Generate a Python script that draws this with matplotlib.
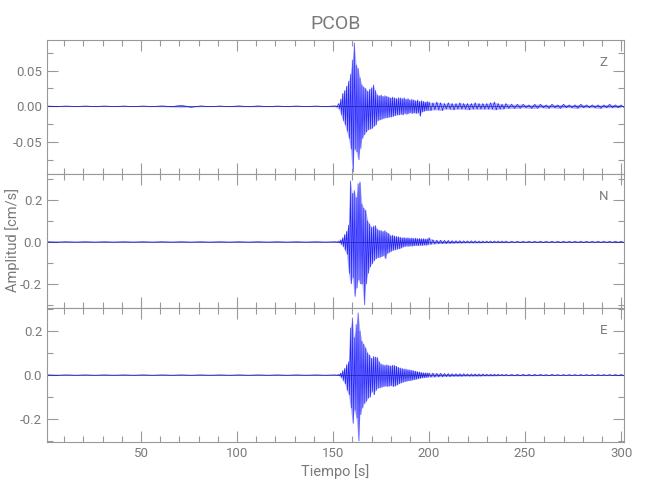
import numpy as np
import matplotlib
matplotlib.use("Agg")
import matplotlib.pyplot as plt
from matplotlib.ticker import MultipleLocator, FormatStrFormatter

# ------------------------------------------------
# sample times (s): coarse before the event, 1 s during it, coarser in the coda
t_pre = [1, 11, 21, 31, 41, 51, 61, 71, 81, 91, 101, 111, 121, 131, 141, 151]
t_evt = list(range(153, 201))
t_coda = list(range(202, 241, 2))
t_tail = list(range(243, 301, 3))
times = np.array(t_pre + t_evt + t_coda + t_tail, dtype=float)

# peak (upper) and trough (lower) amplitudes, cm/s
z_hi = [.0004, .0004, .0004, .0004, .0004, .0004, .0006, .0015, .0006, .0004, .0006, .0006, .0004, .0004, .0004, .0006,
        .004, .010, .018, .022, .028, .035, .045, .065,
        .089, .058, .053, .040, .030, .027, .025, .021,
        .024, .026, .030, .022, .016, .015, .016, .014,
        .015, .014, .013, .012, .013, .012, .011, .012,
        .012, .011, .012, .010, .011, .009, .010, .009,
        .008, .009, .007, .008, .007, .006, .007, .006,
        .005, .006, .005, .004, .005, .004, .004, .005, .004, .004,
        .004, .005, .004, .004, .004, .005, .006, .004, .003, .004,
        .003, .003, .003, .002, .003, .003, .002, .003, .002, .003,
        .002, .002, .003, .002, .002, .002, .002, .003, .002, .002]
z_lo = [-.0004, -.0004, -.0004, -.0004, -.0004, -.0004, -.0006, -.0015, -.0006, -.0004, -.0006, -.0006, -.0004, -.0004, -.0004, -.0006,
        -.004, -.012, -.020, -.026, -.035, -.045, -.060, -.092,
        -.060, -.064, -.075, -.059, -.045, -.040, -.036, -.033,
        -.032, -.031, -.028, -.026, -.020, -.019, -.018, -.017,
        -.016, -.016, -.015, -.015, -.014, -.013, -.012, -.012,
        -.011, -.012, -.010, -.011, -.010, -.009, -.010, -.009,
        -.010, -.009, -.014, -.008, -.007, -.006, -.006, -.006,
        -.005, -.005, -.006, -.004, -.004, -.005, -.004, -.004, -.004, -.005,
        -.004, -.004, -.004, -.004, -.004, -.004, -.005, -.004, -.004, -.003,
        -.003, -.003, -.002, -.003, -.003, -.002, -.003, -.002, -.003, -.002,
        -.002, -.003, -.002, -.002, -.002, -.003, -.002, -.002, -.002, -.002]

n_hi = [.0008, .0008, .0008, .0008, .0008, .0008, .0008, .0008, .0008, .0008, .0008, .0008, .0008, .0008, .0008, .0008,
        .004, .010, .020, .035, .050, .080, .290, .230,
        .245, .210, .277, .285, .180, .160, .150, .100,
        .086, .070, .075, .078, .060, .055, .054, .050,
        .054, .045, .040, .030, .032, .028, .026, .025,
        .022, .020, .021, .019, .020, .018, .019, .017,
        .018, .016, .017, .015, .016, .014, .015, .020,
        .010, .008, .008, .007, .007, .006, .006, .006, .005, .005,
        .005, .005, .004, .004, .004, .004, .004, .004, .004, .004,
        .003, .003, .003, .003, .003, .003, .003, .003, .003, .003,
        .003, .003, .003, .003, .003, .003, .003, .003, .003, .003]
n_lo = [-.0008, -.0008, -.0008, -.0008, -.0008, -.0008, -.0008, -.0008, -.0008, -.0008, -.0008, -.0008, -.0008, -.0008, -.0008, -.0008,
        -.004, -.012, -.022, -.040, -.060, -.150, -.200, -.170,
        -.260, -.220, -.180, -.200, -.200, -.300, -.200, -.150,
        -.120, -.105, -.090, -.080, -.075, -.073, -.070, -.065,
        -.080, -.055, -.050, -.045, -.040, -.038, -.035, -.033,
        -.030, -.025, -.022, -.020, -.021, -.019, -.020, -.018,
        -.017, -.018, -.016, -.017, -.015, -.016, -.014, -.012,
        -.010, -.009, -.008, -.008, -.007, -.007, -.006, -.006, -.005, -.005,
        -.005, -.005, -.005, -.004, -.004, -.004, -.004, -.004, -.004, -.004,
        -.003, -.003, -.003, -.003, -.003, -.003, -.003, -.003, -.003, -.003,
        -.003, -.003, -.003, -.003, -.003, -.003, -.003, -.003, -.003, -.003]

e_hi = [.0008, .0008, .0008, .0008, .0008, .0008, .0008, .0008, .0008, .0008, .0008, .0008, .0008, .0008, .0008, .0008,
        .003, .009, .020, .030, .047, .060, .214, .260,
        .170, .230, .283, .200, .154, .140, .123, .100,
        .091, .076, .085, .082, .080, .060, .050, .047,
        .045, .047, .044, .042, .045, .044, .040, .035,
        .032, .030, .028, .027, .025, .024, .022, .020,
        .018, .016, .014, .012, .011, .010, .010, .009,
        .009, .008, .008, .007, .007, .006, .006, .006, .006, .005,
        .005, .005, .005, .005, .004, .004, .004, .004, .003, .003,
        .003, .003, .003, .003, .003, .003, .002, .003, .002, .002,
        .002, .002, .002, .002, .002, .002, .002, .002, .002, .002]
e_lo = [-.0008, -.0008, -.0008, -.0008, -.0008, -.0008, -.0008, -.0008, -.0008, -.0008, -.0008, -.0008, -.0008, -.0008, -.0008, -.0008,
        -.003, -.012, -.025, -.040, -.070, -.090, -.150, -.220,
        -.160, -.196, -.300, -.180, -.150, -.130, -.120, -.105,
        -.100, -.075, -.090, -.070, -.060, -.058, -.055, -.052,
        -.050, -.052, -.050, -.048, -.052, -.050, -.045, -.040,
        -.036, -.033, -.030, -.028, -.026, -.025, -.023, -.021,
        -.019, -.017, -.015, -.013, -.012, -.011, -.010, -.009,
        -.009, -.008, -.008, -.007, -.007, -.006, -.006, -.006, -.005, -.005,
        -.005, -.005, -.005, -.004, -.004, -.004, -.004, -.003, -.003, -.003,
        -.003, -.003, -.003, -.003, -.003, -.002, -.003, -.002, -.002, -.002,
        -.002, -.002, -.002, -.002, -.002, -.002, -.002, -.002, -.002, -.002]

components = ["Z", "N", "E"]
y_limits = [(-0.095, 0.093), (-0.315, 0.323), (-0.305, 0.305)]
y_major = [0.05, 0.2, 0.2]
y_minor = [0.025, 0.1, 0.1]
y_fmt = ["%.2f", "%.1f", "%.1f"]

title = "PCOB"
xlabel = "Tiempo [s]"
ylabel = "Amplitud [cm/s]"


def zigzag(t, hi, lo):
    # peak at each sample time, trough half way to the next sample
    t = np.asarray(t)
    mid = np.append((t[:-1] + t[1:]) / 2, t[-1] + (t[-1] - t[-2]) / 2)
    xs = np.column_stack([t, mid]).ravel()
    ys = np.column_stack([hi, lo]).ravel()
    return xs, ys


# ------------------------------------------------
plt.rcParams["font.family"] = ["Roboto", "DejaVu Sans"]
grey = "#999999"      # frame / ticks
tgrey = "#7a7a7a"     # text

fig = plt.figure(figsize=(6.5, 5), dpi=100)
left, width = 47 / 650, 577 / 650
h = 134 / 500
bottoms = [1 - 174 / 500, 1 - 308 / 500, 1 - 442 / 500]

traces = [(z_hi, z_lo), (n_hi, n_lo), (e_hi, e_lo)]
axes = []
for i, comp in enumerate(components):
    ax = fig.add_axes([left, bottoms[i], width, h])
    hi, lo = traces[i]
    # envelope shading for the dense wiggles + the trace itself
    ax.fill_between(times, lo, hi, color="#4040ff", alpha=0.4, lw=0)
    xs, ys = zigzag(times, hi, lo)
    ax.plot(xs, ys, color="#0000ff", lw=0.5, alpha=0.8)
    ax.axhline(0, color="#1a1a80", lw=0.6, alpha=0.7)
    ax.set_xlim(1, 301.5)
    ax.set_ylim(*y_limits[i])
    ax.xaxis.set_major_locator(MultipleLocator(50))
    ax.xaxis.set_minor_locator(MultipleLocator(10))
    ax.yaxis.set_major_locator(MultipleLocator(y_major[i]))
    ax.yaxis.set_minor_locator(MultipleLocator(y_minor[i]))
    ax.yaxis.set_major_formatter(FormatStrFormatter(y_fmt[i]))
    ax.tick_params(which="both", direction="in", top=True, right=True,
                   color=grey, labelcolor=tgrey, labelsize=9.5, width=0.8)
    ax.tick_params(which="major", length=8)
    ax.tick_params(which="minor", length=4.5)
    for s in ax.spines.values():
        s.set_color(grey)
        s.set_linewidth(0.8)
    if i < 2:
        ax.tick_params(labelbottom=False)
    ax.text(0.965, 0.83, comp, transform=ax.transAxes, color=tgrey,
            fontsize=9.5, ha="center", va="center")
    axes.append(ax)

axes[0].set_title(title, color=tgrey, fontsize=14, pad=8)
axes[2].set_xlabel(xlabel, color=tgrey, fontsize=10.5, labelpad=3)
fig.text(0.02, 0.52, ylabel, rotation=90, color=tgrey, fontsize=10.5,
         ha="center", va="center")

fig.savefig("out.png", dpi=100)
plt.close("all")
